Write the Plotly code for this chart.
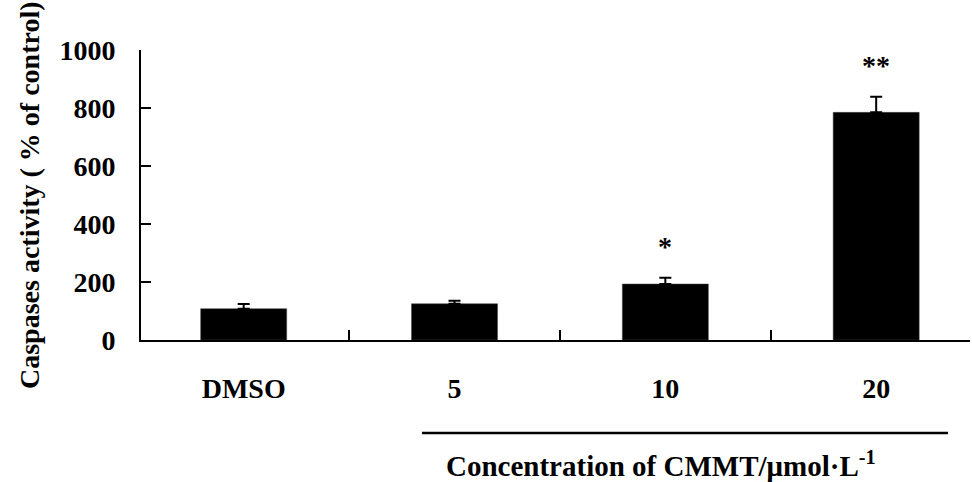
import plotly.graph_objects as go

categories = ["DMSO", "5", "10", "20"]
values = [108, 125, 193, 785]
errors = [16, 10, 22, 54]
significance = ["", "", "*", "**"]
y_ticks = [0, 200, 400, 600, 800, 1000]

FONT = "Liberation Serif"
xpos = list(range(len(categories)))
L, R, T, B = 141, 970, 50, 340
PW, PH = R - L, B - T

fig = go.Figure()
fig.add_trace(go.Bar(
    x=xpos, y=values, width=0.408,
    marker=dict(color="black", line=dict(color="#444", width=0.5)),
    error_y=dict(type="data", symmetric=False, array=errors,
                 arrayminus=[0] * len(errors), color="black",
                 thickness=2, width=6),
    showlegend=False, hoverinfo="skip",
))

for xi, v, e, s in zip(xpos, values, errors, significance):
    if s:
        fig.add_annotation(x=xi, y=v + e + 107, text="<b>%s</b>" % s,
                           showarrow=False, yanchor="middle",
                           font=dict(family=FONT, size=28, color="black"))

fig.add_annotation(xref="paper", yref="paper",
                   x=(661 - L) / PW, y=(B - 464) / PH,
                   text="<b>Concentration of CMMT/μmol·L<sup>-1</sup></b>",
                   showarrow=False, xanchor="center", yanchor="middle",
                   font=dict(family=FONT, size=29, color="black"))
fig.add_shape(type="line", xref="paper", yref="paper",
              x0=(422 - L) / PW, x1=(948 - L) / PW,
              y0=(B - 433) / PH, y1=(B - 433) / PH,
              line=dict(color="black", width=2.5))
fig.add_annotation(xref="paper", yref="paper",
                   x=(29 - L) / PW, y=(B - 195) / PH,
                   text="<b>Caspases activity ( % of control)</b>",
                   textangle=-90, showarrow=False,
                   xanchor="center", yanchor="middle",
                   font=dict(family=FONT, size=28, color="black"))

fig.update_layout(
    width=972, height=482,
    margin=dict(l=L, r=972 - R, t=T, b=482 - B),
    plot_bgcolor="white", paper_bgcolor="white",
    font=dict(family=FONT, size=28, color="black"),
    xaxis=dict(
        range=[-0.487, 3.445], automargin=False,
        tickvals=xpos, ticktext=["<b>%s</b>" % c for c in categories],
        ticks="", showline=True, linecolor="black", linewidth=2,
        showgrid=False, zeroline=False, ticklabelstandoff=22,
        tickfont=dict(family=FONT, size=28, color="black"),
        minor=dict(tick0=0.5, dtick=1, ticks="inside", ticklen=10,
                   tickwidth=2, tickcolor="black", showgrid=False),
    ),
    yaxis=dict(
        range=[0, 1000], tickvals=y_ticks, automargin=False,
        ticktext=["<b>%d</b>" % t for t in y_ticks],
        ticks="inside", ticklen=10, tickwidth=2, tickcolor="black",
        showline=True, linecolor="black", linewidth=2,
        showgrid=False, zeroline=False, ticklabelstandoff=18,
        tickfont=dict(family=FONT, size=28, color="black"),
    ),
)

fig.write_html(
    "out.html",
    config={"displayModeBar": False},
    post_script="document.body.style.margin='0';"
                "document.body.style.overflow='hidden';",
)
